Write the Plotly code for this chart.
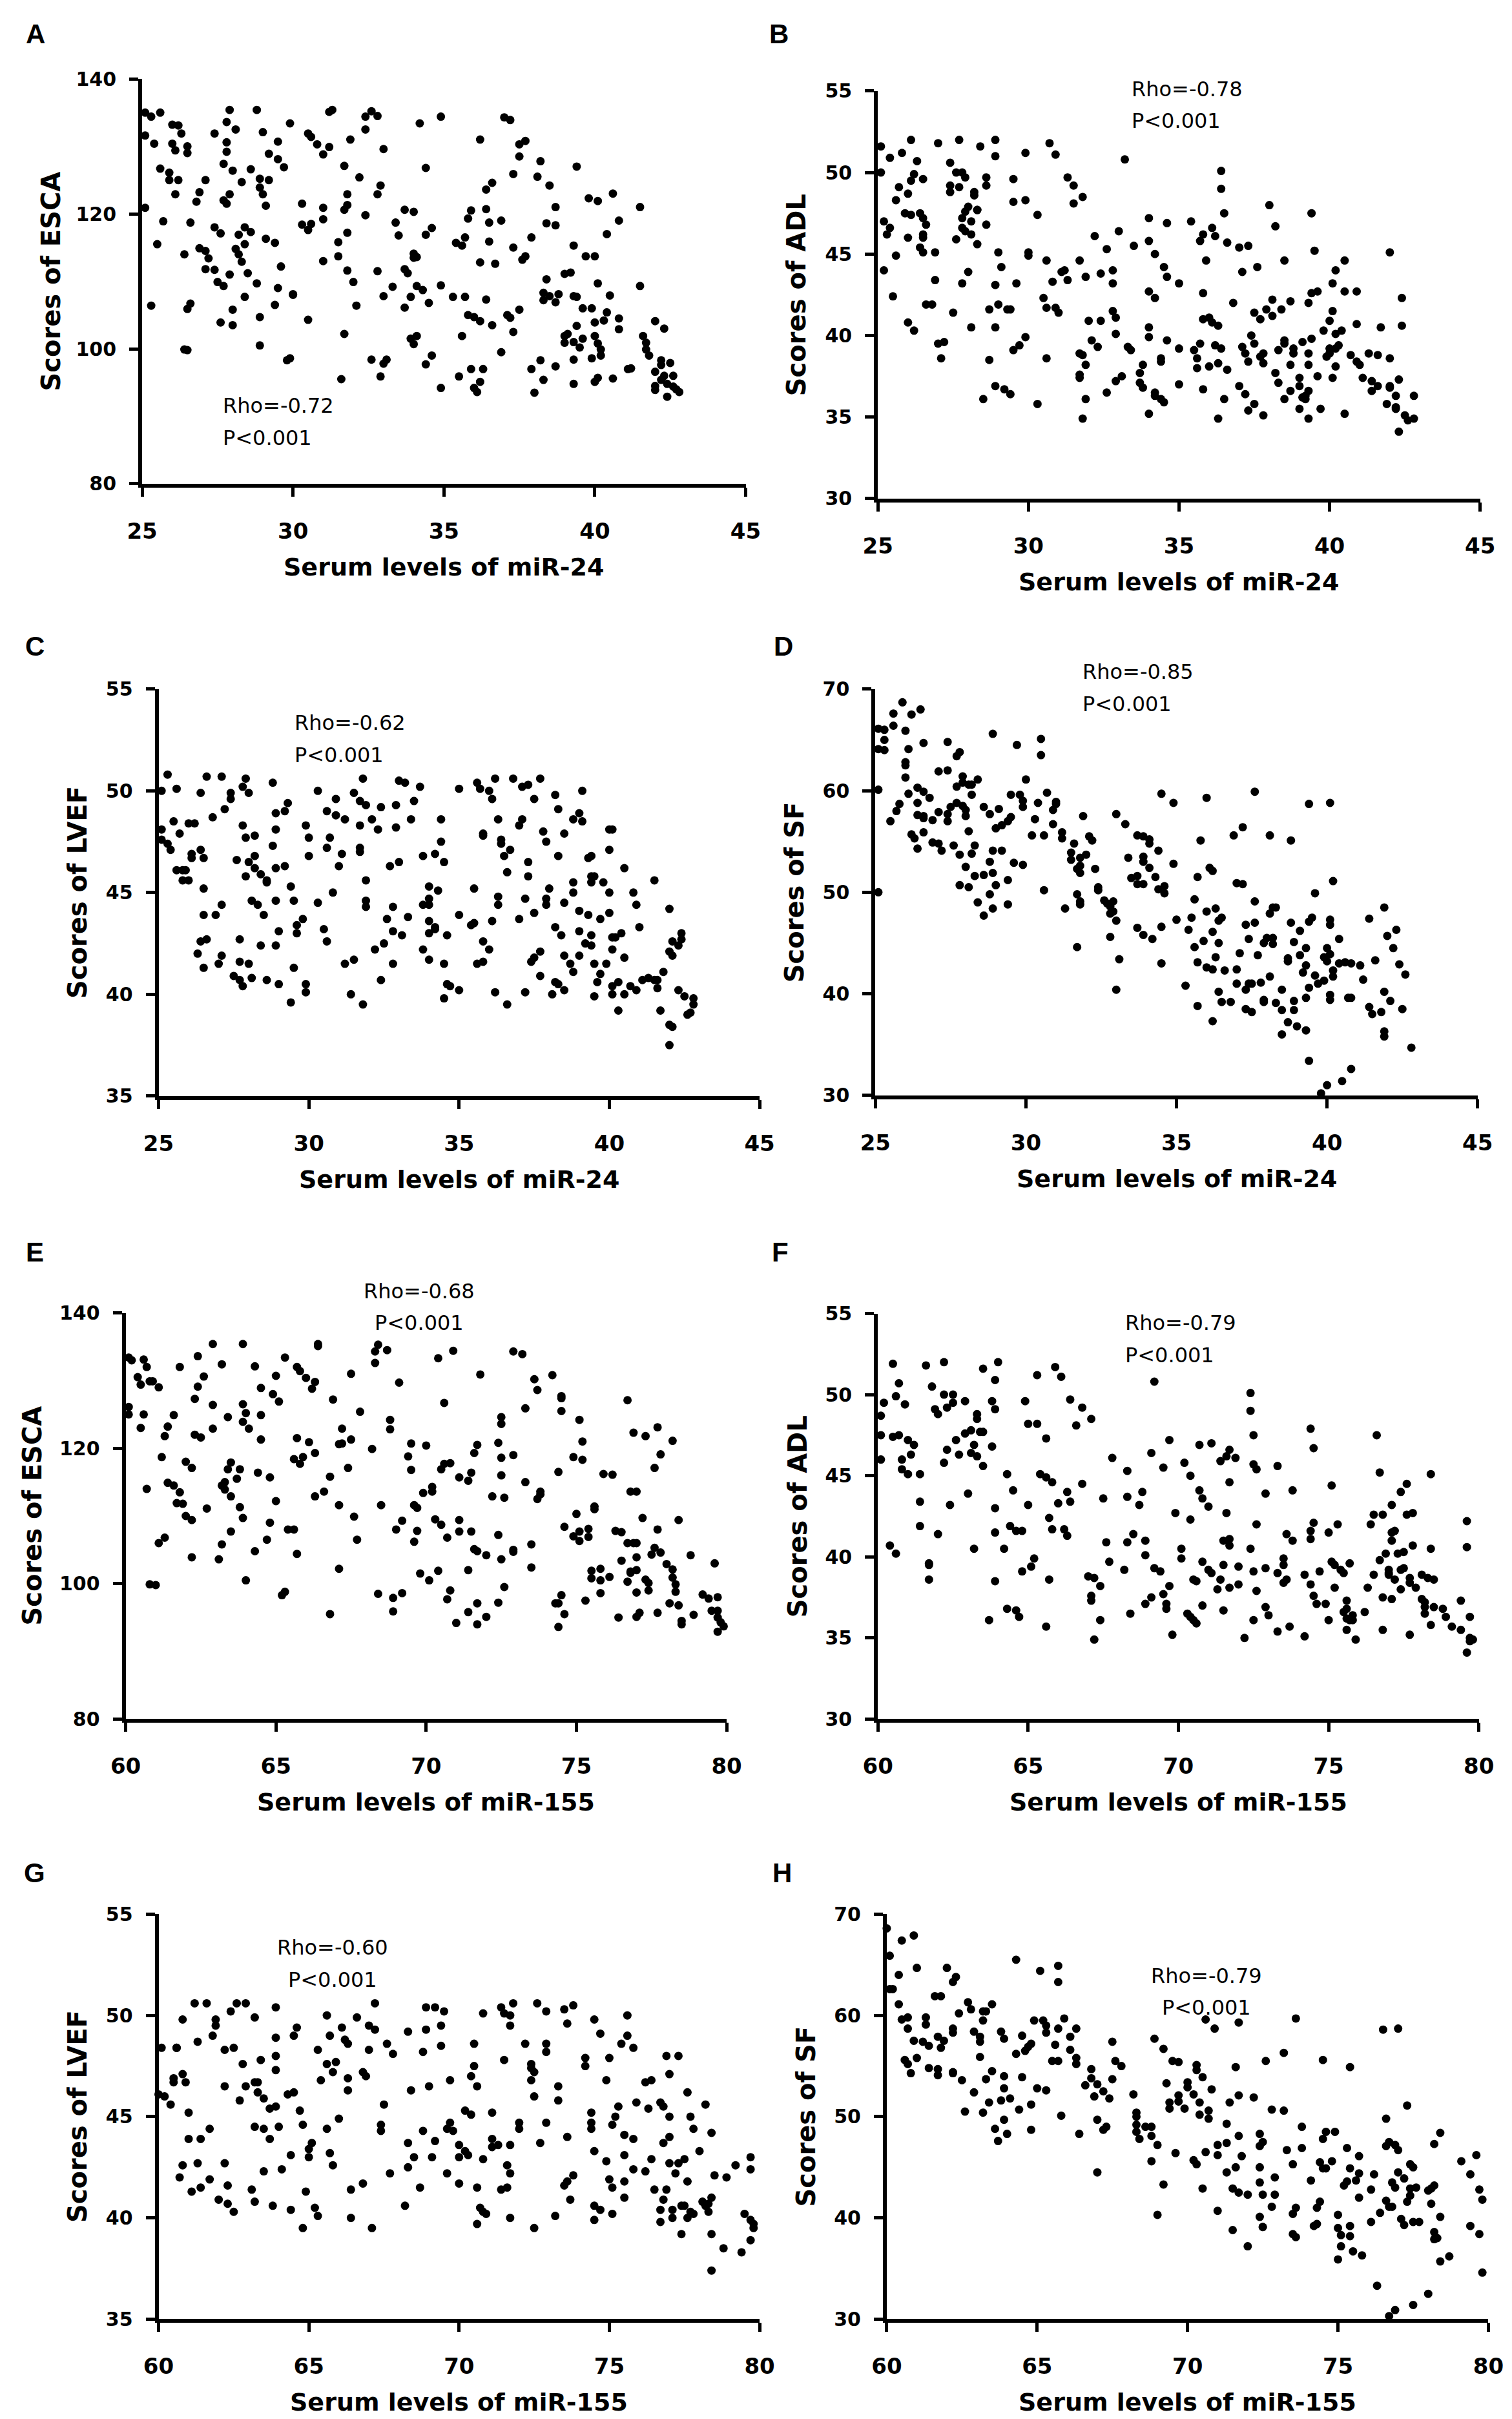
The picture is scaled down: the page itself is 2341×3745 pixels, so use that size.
"""Scatter panels A-H: serum miR-24 / miR-155 levels vs clinical scores."""

import plotly.graph_objects as go

W, H = 2341, 3745

# ---- data: (serum level, score) pairs ----
a_mir24_esca = [
    (25.1,135.0),(25.3,134.4),(25.6,135.0),(25.1,131.6),(25.4,130.4),(25.1,120.9),(25.6,126.7),(25.3,106.4),
    (25.5,115.5),(25.7,118.9),(26.0,133.2),(26.2,133.1),(26.3,131.9),(26.0,130.4),(26.1,129.4),(26.5,130.0),
    (26.5,129.0),(25.9,126.1),(25.9,125.0),(26.2,125.0),(26.1,122.9),(26.4,114.0),(26.5,105.9),(26.6,106.7),
    (26.6,118.7),(26.4,99.9),(26.5,99.8),(26.8,121.8),(26.9,123.2),(27.1,125.0),(26.9,114.9),(27.1,114.5),
    (27.2,113.4),(27.1,111.8),(27.4,131.9),(27.4,118.0),(27.6,117.1),(27.4,111.7),(27.5,109.9),(27.7,109.3),
    (27.6,103.9),(27.8,133.6),(27.9,135.4),(27.8,130.6),(27.8,129.2),(27.7,127.4),(28.0,126.4),(27.9,122.9),
    (27.7,122.0),(27.8,121.5),(28.1,132.5),(28.3,124.7),(28.2,116.9),(28.4,118.0),(28.1,114.8),(28.2,114.0),
    (28.4,115.5),(28.3,112.9),(27.9,111.0),(28.4,107.7),(28.0,103.5),(28.0,105.8),(28.6,117.3),(28.5,111.2),
    (28.8,109.7),(28.6,126.6),(28.8,135.4),(28.9,125.2),(28.9,123.9),(29.0,122.9),(29.0,132.1),(29.2,125.0),
    (29.1,121.2),(29.1,116.3),(28.9,104.7),(28.9,100.5),(29.2,128.9),(29.5,130.7),(29.5,128.1),(29.7,126.9),
    (29.4,115.7),(29.6,112.2),(29.5,109.0),(29.4,106.5),(29.9,133.4),(30.0,108.0),(30.0,108.1),(29.9,98.6),
    (29.8,98.3),(30.3,121.5),(30.3,118.4),(30.5,131.9),(30.6,131.4),(30.8,130.3),(31.0,128.8),(30.6,118.5),
    (30.5,117.6),(30.5,104.3),(31.0,120.9),(31.0,119.2),(31.0,113.0),(31.2,135.1),(31.3,135.4),(31.2,129.9),
    (31.5,115.8),(31.5,113.7),(31.7,127.1),(31.8,122.9),(31.8,121.3),(31.7,120.6),(31.8,117.2),(31.8,111.6),
    (31.7,102.2),(31.6,95.5),(31.9,131.0),(32.0,109.9),(32.1,106.4),(32.2,125.4),(32.4,119.8),(32.4,132.5),
    (32.4,134.4),(32.6,135.2),(32.8,134.5),(33.0,129.6),(32.9,124.2),(32.8,122.9),(32.8,111.5),(33.0,107.8),
    (32.6,98.4),(33.0,97.8),(33.1,98.4),(32.9,95.9),(33.3,109.2),(33.4,118.7),(33.5,116.8),(33.7,120.6),
    (34.0,120.3),(33.7,111.8),(33.8,111.2),(33.7,106.1),(34.0,114.1),(34.0,113.5),(34.1,113.6),(33.9,107.7),
    (34.1,109.3),(34.2,133.4),(34.4,126.8),(34.4,116.9),(34.6,117.9),(34.3,108.7),(34.5,106.8),(33.9,101.5),
    (34.1,101.9),(34.0,100.7),(34.6,99.0),(34.4,97.7),(34.9,134.4),(34.9,109.4),(34.9,94.2),(35.3,107.7),
    (35.4,115.7),(35.6,115.3),(35.7,116.5),(35.7,107.7),(35.8,105.0),(35.6,101.9),(35.5,95.9),(35.9,120.5),
    (35.8,119.3),(36.2,131.0),(36.4,120.7),(36.5,115.9),(36.5,118.7),(36.4,123.6),(36.6,124.6),(36.2,112.8),
    (36.7,112.6),(36.4,107.3),(36.0,104.7),(36.2,104.1),(36.6,103.5),(35.9,97.0),(36.3,97.0),(36.2,95.1),
    (36.0,94.2),(36.1,93.6),(36.9,119.0),(37.0,134.3),(37.2,133.9),(37.3,125.9),(37.3,115.0),(37.1,105.0),
    (37.2,104.6),(37.3,102.5),(36.9,99.5),(37.5,130.3),(37.7,130.8),(37.5,128.5),(37.6,113.2),(37.7,113.7),
    (37.5,105.8),(37.9,116.5),(38.2,127.8),(38.1,125.5),(38.5,124.2),(38.4,118.6),(38.7,121.0),(38.7,118.3),
    (38.4,110.3),(38.3,108.3),(38.5,107.8),(38.3,107.2),(38.8,108.1),(38.7,106.9),(37.9,97.0),(38.0,93.5),
    (38.2,98.3),(38.3,95.4),(38.7,97.4),(39.0,111.1),(39.2,111.3),(39.3,115.3),(39.3,107.8),(39.4,107.7),
    (39.4,127.0),(39.6,106.0),(39.4,103.4),(39.0,101.9),(39.1,102.2),(39.0,100.9),(39.3,101.0),(39.6,101.5),
    (39.5,100.2),(39.3,98.4),(39.3,94.8),(39.7,113.7),(40.0,113.7),(39.8,122.3),(40.1,121.9),(40.1,109.7),
    (39.9,106.0),(40.0,103.9),(40.0,101.9),(40.1,100.8),(40.2,99.9),(40.2,99.0),(39.9,98.6),(40.1,95.7),
    (40.0,95.1),(40.6,123.0),(40.4,117.0),(40.5,107.9),(40.4,105.4),(40.3,104.2),(40.6,95.6),(40.8,104.5),
    (40.8,119.0),(40.8,102.9),(41.5,121.0),(41.1,97.0),(41.2,97.1),(41.5,109.3),(41.6,101.9),(41.7,100.9),
    (41.7,99.9),(41.8,99.0),(42.0,104.1),(42.3,103.0),(42.0,96.6),(42.2,98.3),(42.2,97.6),(42.0,94.5),
    (42.0,93.9),(42.2,95.4),(42.3,96.0),(42.5,97.9),(42.4,94.8),(42.4,92.9),(42.6,96.0),(42.6,94.4),
    (42.7,94.0),(42.8,93.6),
]

b_mir24_adl = [
    (25.1,51.6),(25.1,50.0),(25.2,47.0),(25.2,44.0),(25.3,46.2),(25.4,46.6),(25.4,50.9),(25.5,42.4),
    (25.6,44.9),(25.6,48.3),(25.7,49.1),(25.8,51.2),(25.9,47.5),(26.0,48.7),(26.0,46.0),(26.0,40.8),
    (26.1,49.5),(26.1,52.0),(26.1,47.4),(26.2,49.9),(26.2,40.3),(26.3,50.7),(26.4,47.5),(26.5,49.6),
    (26.5,47.2),(26.6,46.8),(26.5,46.0),(26.5,46.2),(26.4,45.4),(26.5,45.1),(26.6,41.9),(26.8,41.9),
    (26.9,43.4),(26.9,45.1),(27.0,51.8),(27.0,39.5),(27.2,39.6),(27.1,38.6),(27.4,50.6),(27.4,49.2),
    (27.4,48.8),(27.6,50.0),(27.6,45.9),(27.5,41.4),(27.7,52.0),(27.8,50.0),(27.9,49.7),(27.7,49.1),
    (27.8,46.6),(27.8,47.2),(27.9,46.4),(27.9,47.6),(28.0,43.9),(27.8,43.2),(28.0,47.9),(28.1,47.0),
    (28.1,46.2),(28.2,48.6),(28.2,48.8),(28.3,47.7),(28.3,47.7),(28.3,45.6),(28.1,40.5),(28.4,51.6),
    (28.6,46.8),(28.6,49.7),(28.6,49.2),(28.5,36.1),(28.9,43.1),(28.9,52.0),(28.9,51.0),(28.7,41.6),
    (28.9,40.5),(28.7,38.5),(28.9,36.9),(29.0,45.1),(29.1,44.2),(29.0,41.9),(29.3,41.6),(29.4,41.6),
    (29.2,36.7),(29.4,36.4),(29.5,39.1),(29.5,49.6),(29.5,48.2),(29.6,43.2),(29.7,39.4),(29.9,39.9),
    (29.9,51.2),(29.9,48.3),(30.0,45.1),(30.0,44.9),(30.3,47.4),(30.3,35.8),(30.5,42.3),(30.6,44.6),
    (30.6,41.7),(30.6,38.6),(30.7,51.8),(30.8,43.3),(30.9,51.1),(30.9,41.7),(31.0,41.4),(31.1,43.9),
    (31.2,44.0),(31.3,49.7),(31.3,43.4),(31.5,49.2),(31.5,48.1),(31.7,44.6),(31.7,38.9),(31.7,37.6),
    (31.7,37.4),(31.8,48.5),(31.9,43.6),(31.8,38.8),(31.9,38.2),(31.9,36.1),(31.8,34.9),(32.0,40.9),
    (32.1,39.7),(32.2,46.1),(32.3,39.3),(32.4,40.9),(32.4,43.8),(32.6,45.3),(32.6,36.5),(32.8,44.0),
    (32.8,43.2),(32.8,41.5),(32.9,41.1),(32.9,40.1),(32.9,37.2),(33.1,37.5),(33.0,46.4),(33.2,50.8),
    (33.3,39.3),(33.4,39.1),(33.5,45.5),(33.7,37.7),(33.8,38.2),(33.7,37.1),(33.8,36.8),(34.0,47.2),
    (34.0,45.8),(34.0,42.7),(34.0,40.5),(34.0,39.9),(34.0,35.2),(34.2,36.5),(34.2,36.3),(34.2,45.0),
    (34.2,42.3),(34.4,36.1),(34.5,35.9),(34.4,38.6),(34.4,38.4),(34.5,44.2),(34.6,46.9),(34.6,39.7),
    (34.6,43.6),(35.0,43.2),(35.0,39.2),(35.0,37.0),(35.4,47.0),(35.5,39.1),(35.6,38.0),(35.6,38.6),
    (35.7,39.5),(35.7,45.8),(35.8,46.2),(35.8,42.6),(35.8,41.0),(35.8,36.7),(35.9,44.6),(36.0,38.1),
    (36.0,41.1),(36.1,40.8),(36.1,46.6),(36.2,46.1),(36.2,39.4),(36.3,38.3),(36.3,40.6),(36.4,39.2),
    (36.3,34.9),(36.4,50.1),(36.4,49.0),(36.5,47.5),(36.5,36.1),(36.6,45.7),(36.6,37.9),(36.8,42.0),
    (37.0,45.4),(37.1,43.9),(37.0,36.9),(37.1,39.3),(37.2,38.9),(37.2,36.4),(37.3,45.5),(37.3,38.4),
    (37.3,35.4),(37.4,40.0),(37.5,39.5),(37.5,41.4),(37.5,35.8),(37.6,44.2),(37.7,41.0),(37.7,38.7),
    (37.8,35.1),(37.8,38.9),(37.8,38.3),(38.0,48.0),(37.9,41.6),(38.1,41.2),(38.1,42.2),(38.2,46.7),
    (38.2,37.7),(38.3,37.1),(38.3,39.1),(38.4,41.6),(38.5,44.6),(38.5,36.1),(38.5,39.7),(38.5,39.5),
    (38.7,38.2),(38.7,42.1),(38.7,36.6),(38.8,39.2),(38.8,38.9),(39.0,36.9),(39.0,37.4),(39.0,35.5),
    (39.1,36.2),(39.1,39.6),(39.2,36.1),(39.2,36.3),(39.3,36.6),(39.3,34.9),(39.3,38.2),(39.3,38.9),
    (39.3,42.0),(39.4,42.6),(39.4,39.8),(39.4,47.5),(39.5,45.2),(39.6,42.7),(39.6,37.5),(39.7,35.5),
    (39.8,40.3),(39.9,38.7),(40.0,40.9),(40.0,39.2),(40.0,38.9),(40.1,37.4),(40.1,43.2),(40.1,41.5),
    (40.2,40.1),(40.2,44.0),(40.2,38.1),(40.3,39.4),(40.2,39.2),(40.4,40.3),(40.5,44.6),(40.5,42.7),
    (40.5,35.2),(40.7,38.8),(40.9,38.4),(40.9,40.7),(40.9,42.7),(41.0,38.2),(41.1,37.4),(41.3,38.9),
    (41.4,37.2),(41.4,36.6),(41.6,38.8),(41.6,36.9),(41.7,40.5),(42.0,45.1),(42.0,38.6),(42.0,36.9),
    (42.0,36.8),(41.9,35.8),(42.2,36.3),(42.2,35.6),(42.2,35.5),(42.3,37.3),(42.3,34.1),(42.4,42.3),
    (42.4,40.6),(42.5,35.1),(42.6,34.8),(42.8,36.3),(42.8,34.9),
]

c_mir24_lvef = [
    (25.1,50.0),(25.1,48.1),(25.1,47.6),(25.3,50.8),(25.3,47.4),(25.4,47.1),(25.5,48.5),(25.6,50.1),
    (25.6,46.1),(25.7,47.9),(25.8,46.1),(25.8,45.6),(26.0,48.4),(25.9,46.1),(26.0,45.6),(26.1,46.9),
    (26.1,46.7),(26.2,48.4),(26.3,42.0),(26.4,49.9),(26.4,42.6),(26.4,47.1),(26.5,46.7),(26.5,45.2),
    (26.5,43.9),(26.5,41.3),(26.6,50.7),(26.6,42.7),(26.8,48.7),(26.9,43.9),(27.0,41.5),(27.1,50.7),
    (27.1,44.4),(27.1,41.9),(27.2,49.1),(27.4,49.9),(27.4,49.6),(27.5,40.9),(27.6,46.6),(27.7,42.7),
    (27.7,40.7),(27.7,41.6),(27.8,48.3),(27.8,50.2),(27.8,40.4),(27.9,50.6),(27.9,47.7),(27.9,45.8),
    (28.0,46.5),(28.0,49.9),(28.0,41.5),(28.1,44.6),(28.1,40.8),(28.2,46.8),(28.2,46.2),(28.2,47.8),
    (28.3,44.4),(28.4,45.9),(28.5,43.9),(28.4,42.4),(28.6,45.5),(28.6,45.6),(28.6,40.7),(28.8,50.4),
    (28.8,47.3),(28.9,48.9),(28.9,48.1),(28.9,46.2),(28.9,44.6),(28.9,42.4),(29.0,43.1),(29.0,40.5),
    (29.2,49.0),(29.2,46.3),(29.3,49.4),(29.4,45.3),(29.5,44.6),(29.4,39.6),(29.6,43.4),(29.6,43.0),
    (29.5,41.3),(29.8,43.7),(29.9,40.5),(29.9,40.1),(29.9,48.3),(30.0,47.7),(30.0,46.8),(30.3,50.0),
    (30.3,44.5),(30.5,43.2),(30.6,42.6),(30.6,49.0),(30.6,47.2),(30.7,47.7),(30.8,45.0),(30.9,49.6),
    (30.9,48.8),(31.0,46.3),(31.1,46.9),(31.2,48.6),(31.2,41.5),(31.4,40.0),(31.5,49.9),(31.5,41.7),
    (31.7,47.2),(31.7,49.5),(31.7,48.3),(31.7,47.0),(31.8,50.6),(31.9,49.3),(31.9,45.6),(31.9,44.6),
    (31.9,44.3),(31.8,39.5),(32.1,48.6),(32.3,48.1),(32.2,42.2),(32.4,49.2),(32.5,42.5),(32.4,40.7),
    (32.6,43.7),(32.7,46.3),(32.8,44.3),(32.8,43.1),(32.8,41.5),(32.9,49.3),(32.9,48.2),(33.0,50.5),
    (33.0,46.5),(33.1,42.9),(33.2,50.4),(33.3,43.8),(33.4,48.6),(33.5,49.5),(33.7,50.2),(33.8,42.2),
    (33.8,46.8),(33.8,44.4),(34.0,44.7),(34.0,44.4),(34.0,45.3),(34.0,43.6),(34.0,43.0),(34.0,41.7),
    (34.2,46.9),(34.2,43.3),(34.2,43.2),(34.3,45.1),(34.4,48.6),(34.4,47.5),(34.5,46.5),(34.5,41.5),
    (34.5,39.8),(34.6,42.9),(34.6,40.5),(34.7,40.4),(35.0,40.2),(35.0,50.1),(35.0,43.9),(35.4,43.4),
    (35.5,43.5),(35.5,45.2),(35.6,50.4),(35.7,50.1),(35.8,47.9),(35.8,47.8),(35.6,41.5),(35.8,41.6),
    (35.8,42.6),(36.0,42.2),(36.0,50.0),(36.1,49.6),(36.1,43.6),(36.2,40.1),(36.2,50.6),(36.3,48.6),
    (36.3,44.8),(36.3,44.4),(36.4,47.6),(36.4,47.4),(36.5,46.8),(36.6,39.5),(36.7,47.1),(36.6,46.0),
    (36.8,50.6),(37.0,48.3),(37.1,48.6),(37.0,43.7),(37.1,50.2),(37.2,44.7),(37.2,40.1),(37.3,50.3),
    (37.3,46.5),(37.3,45.8),(37.4,41.6),(37.5,49.6),(37.5,44.0),(37.5,41.8),(37.7,42.1),(37.7,40.9),
    (37.7,50.6),(37.8,48.0),(37.9,47.5),(38.0,45.2),(37.9,44.7),(37.9,44.4),(38.2,49.8),(38.2,43.3),
    (38.2,40.6),(38.1,40.0),(38.3,49.1),(38.3,46.8),(38.4,42.9),(38.3,40.5),(38.5,47.9),(38.5,44.5),
    (38.5,41.9),(38.5,40.2),(38.8,45.5),(38.8,45.0),(38.7,41.5),(38.8,48.6),(38.8,41.1),(39.0,43.1),
    (39.0,44.1),(39.0,41.9),(39.0,48.9),(39.1,48.5),(39.1,50.0),(39.2,42.5),(39.3,43.9),(39.3,46.7),
    (39.4,45.5),(39.4,42.4),(39.4,42.9),(39.4,46.8),(39.4,45.8),(39.5,45.8),(39.5,41.5),(39.5,39.9),
    (39.7,43.7),(39.7,41.0),(39.6,40.6),(39.8,45.5),(39.9,41.5),(40.0,47.1),(40.0,48.1),(40.0,44.0),
    (40.0,45.0),(40.1,42.8),(40.1,42.2),(40.1,40.0),(40.1,40.4),(40.1,48.1),(40.2,42.8),(40.3,40.6),
    (40.3,39.2),(40.4,43.0),(40.5,41.8),(40.5,40.0),(40.5,46.2),(40.7,40.4),(40.8,45.0),(40.9,44.4),
    (40.9,40.2),(41.0,43.3),(41.1,40.7),(41.3,40.8),(41.5,40.7),(41.5,45.6),(41.6,40.7),(41.6,40.3),
    (41.7,39.2),(41.8,41.1),(42.0,44.2),(42.0,42.1),(42.1,42.6),(42.1,41.9),(42.0,38.5),(42.1,38.4),
    (42.0,37.5),(42.3,40.2),(42.3,42.4),(42.4,43.0),(42.4,42.7),(42.5,39.9),(42.6,39.0),(42.7,39.1),
    (42.8,39.8),(42.8,39.5),
]

d_mir24_sf = [
    (25.1,66.1),(25.1,64.1),(25.1,60.1),(25.1,50.0),(25.3,66.0),(25.3,65.0),(25.3,64.0),(25.5,57.0),
    (25.6,66.4),(25.6,67.6),(25.9,68.7),(25.7,58.0),(25.8,58.7),(26.0,65.9),(26.0,62.8),(26.0,62.5),
    (26.0,61.3),(26.1,64.1),(26.1,59.7),(26.2,67.5),(26.2,55.7),(26.3,55.3),(26.4,60.3),(26.4,58.8),
    (26.4,57.6),(26.5,68.0),(26.6,64.7),(26.6,55.9),(26.4,54.3),(26.6,57.5),(26.6,59.9),(26.6,57.3),
    (26.8,59.3),(26.9,57.1),(26.9,54.9),(27.1,61.9),(27.1,54.8),(27.1,57.9),(27.2,54.1),(27.4,62.0),
    (27.4,64.8),(27.4,57.0),(27.4,57.7),(27.5,58.4),(27.6,54.6),(27.7,63.4),(27.8,63.8),(27.7,60.4),
    (27.7,58.8),(27.8,53.7),(27.8,50.7),(27.9,61.4),(27.9,60.8),(27.9,58.5),(28.0,52.5),(28.0,58.1),
    (28.0,57.5),(28.1,56.0),(28.1,60.6),(28.2,59.6),(28.2,60.6),(28.1,50.5),(28.2,53.8),(28.3,54.6),
    (28.3,51.6),(28.4,61.1),(28.4,49.0),(28.6,47.7),(28.6,58.4),(28.6,51.7),(28.8,57.7),(28.8,53.0),
    (28.9,65.6),(28.9,54.1),(28.9,51.9),(28.8,49.8),(28.9,48.4),(29.0,56.3),(29.0,50.7),(29.1,58.2),
    (29.2,54.1),(29.2,56.6),(29.4,57.0),(29.5,57.4),(29.4,51.2),(29.4,48.8),(29.5,59.6),(29.6,52.9),
    (29.7,64.5),(29.8,59.6),(29.9,59.0),(29.9,58.4),(29.9,52.7),(30.0,61.1),(30.2,55.6),(30.3,57.2),
    (30.4,58.8),(30.5,65.1),(30.5,63.5),(30.6,55.6),(30.6,50.2),(30.7,59.8),(30.9,58.1),(30.9,56.7),
    (31.0,58.7),(31.0,58.9),(31.2,55.9),(31.2,55.3),(31.3,48.4),(31.5,53.9),(31.6,54.8),(31.5,53.2),
    (31.7,52.3),(31.7,49.8),(31.7,44.6),(31.8,53.4),(31.8,52.6),(31.9,57.5),(31.8,51.9),(31.8,49.1),
    (31.8,48.8),(32.0,53.7),(32.1,55.5),(32.2,55.1),(32.3,52.3),(32.4,50.2),(32.4,50.5),(32.6,49.2),
    (32.7,48.9),(32.8,47.9),(32.8,48.6),(32.9,49.1),(32.9,48.1),(32.8,45.6),(33.0,57.7),(33.0,47.2),
    (33.0,40.4),(33.1,43.4),(33.3,56.7),(33.4,53.4),(33.5,51.4),(33.7,50.8),(33.7,55.6),(33.7,51.6),
    (33.7,46.5),(33.9,55.5),(33.9,53.5),(33.9,53.0),(33.9,50.8),(33.9,45.8),(34.1,52.4),(34.1,55.2),
    (34.1,54.8),(34.2,45.4),(34.3,51.5),(34.4,50.3),(34.4,54.1),(34.5,59.7),(34.6,49.9),(34.6,50.6),
    (34.5,46.6),(34.5,43.0),(34.9,58.8),(34.9,52.8),(35.0,47.3),(35.3,40.8),(35.4,46.3),(35.5,47.5),
    (35.6,44.6),(35.6,49.3),(35.7,43.1),(35.7,51.5),(35.7,38.8),(35.8,55.1),(35.9,45.2),(36.0,42.6),
    (36.0,59.3),(36.0,48.1),(36.1,52.4),(36.2,46.1),(36.2,42.4),(36.2,52.1),(36.2,37.3),(36.3,43.6),
    (36.3,48.4),(36.4,40.2),(36.4,45.0),(36.4,47.2),(36.5,39.2),(36.5,47.5),(36.6,42.3),(36.8,39.2),
    (36.9,55.6),(37.0,41.0),(37.0,42.4),(37.0,50.9),(37.2,56.4),(37.1,44.0),(37.2,50.8),(37.3,46.8),
    (37.3,38.5),(37.3,40.4),(37.4,45.4),(37.4,41.0),(37.5,38.2),(37.5,41.0),(37.6,59.9),(37.6,47.0),
    (37.6,49.1),(37.7,43.8),(37.8,41.1),(37.9,39.2),(37.9,39.4),(37.9,45.0),(38.0,45.5),(38.1,55.6),
    (38.1,47.9),(38.1,41.7),(38.2,45.5),(38.2,48.5),(38.2,44.9),(38.3,48.5),(38.3,39.1),(38.5,40.4),
    (38.5,38.4),(38.5,36.0),(38.7,37.2),(38.7,43.5),(38.7,43.2),(38.8,55.1),(38.8,47.0),(38.9,45.1),
    (38.9,39.3),(38.9,38.4),(39.0,36.8),(39.1,46.2),(39.1,43.8),(39.2,42.1),(39.3,44.5),(39.3,42.8),
    (39.3,36.4),(39.3,39.6),(39.4,33.4),(39.4,58.7),(39.4,47.1),(39.5,47.5),(39.4,40.6),(39.6,49.9),
    (39.6,41.8),(39.7,41.0),(39.8,30.2),(39.9,43.6),(39.9,41.3),(40.0,44.5),(40.0,43.2),(40.1,58.8),
    (40.1,47.3),(40.1,46.8),(40.1,39.9),(40.1,39.4),(40.1,43.9),(40.2,41.7),(40.2,51.1),(40.2,42.3),
    (40.0,31.0),(40.4,43.0),(40.4,45.4),(40.5,31.4),(40.6,43.1),(40.7,39.6),(40.8,43.0),(40.8,39.6),
    (40.8,32.6),(41.1,42.8),(41.2,41.4),(41.4,38.7),(41.4,47.4),(41.5,38.0),(41.6,43.3),(41.8,38.2),
    (41.9,48.5),(41.9,40.2),(41.9,36.3),(41.9,35.8),(42.0,45.7),(42.1,39.3),(42.2,44.5),(42.3,46.3),
    (42.4,42.9),(42.5,38.5),(42.6,41.9),(42.8,34.7),
]

e_mir155_esca = [
    (60.1,126.1),(60.1,125.0),(60.1,133.4),(60.2,133.0),(60.4,130.5),(60.5,129.4),(60.5,123.0),(60.6,125.0),
    (60.6,133.1),(60.7,132.0),(60.7,114.0),(60.8,99.9),(60.8,129.9),(60.9,129.9),(61.0,99.8),(61.1,106.0),
    (61.1,129.0),(61.2,118.7),(61.3,106.8),(61.3,121.8),(61.4,123.2),(61.4,114.9),(61.6,124.9),(61.6,114.5),
    (61.8,113.5),(61.7,111.9),(61.9,111.8),(61.8,132.0),(62.0,118.0),(62.0,110.0),(62.2,117.1),(62.2,109.4),
    (62.2,103.9),(62.3,127.3),(62.3,122.0),(62.4,133.6),(62.4,129.1),(62.5,121.6),(62.6,130.6),(62.7,111.1),
    (62.9,135.4),(62.9,122.9),(62.9,126.4),(63.1,103.6),(63.2,105.8),(63.2,132.4),(63.2,114.5),(63.3,115.0),
    (63.3,113.9),(63.4,116.9),(63.4,124.6),(63.5,117.9),(63.5,112.9),(63.5,107.7),(63.7,115.5),(63.8,111.3),
    (63.8,116.9),(63.9,126.5),(63.9,109.7),(63.9,135.4),(64.0,125.2),(63.9,123.9),(64.0,100.5),(64.1,122.9),
    (64.3,132.1),(64.3,104.8),(64.4,116.4),(64.5,121.3),(64.5,124.9),(64.5,128.9),(64.7,106.5),(64.8,115.7),
    (64.8,109.0),(64.9,128.0),(65.0,130.7),(65.0,112.2),(65.1,126.9),(65.2,98.3),(65.3,98.8),(65.3,133.4),
    (65.4,108.0),(65.6,108.0),(65.7,121.5),(65.6,118.4),(65.7,104.4),(65.7,132.0),(65.8,117.7),(65.8,131.4),
    (65.9,118.7),(66.0,130.4),(66.1,120.9),(66.2,128.8),(66.3,119.3),(66.3,112.9),(66.3,129.8),(66.4,135.1),
    (66.4,135.4),(66.6,113.6),(66.8,115.8),(66.8,95.5),(66.9,127.2),(67.1,102.2),(67.1,111.6),(67.1,120.6),
    (67.2,120.7),(67.2,122.9),(67.4,117.1),(67.5,121.3),(67.5,131.0),(67.6,109.9),(67.7,106.5),(67.8,125.4),
    (68.2,119.9),(68.3,132.6),(68.3,134.3),(68.4,135.3),(68.4,98.5),(68.5,111.6),(68.7,134.5),(68.8,122.8),
    (68.8,124.2),(68.9,95.9),(68.9,97.9),(69.0,108.0),(69.1,129.7),(69.2,98.6),(69.2,109.3),(69.4,118.8),
    (69.5,116.8),(69.5,120.7),(69.6,106.2),(69.6,111.6),(69.7,111.2),(69.7,107.8),(69.8,101.5),(69.9,113.4),
    (70.0,120.4),(70.1,100.5),(70.2,114.3),(70.2,113.6),(70.3,109.5),(70.4,133.3),(70.4,101.9),(70.5,116.9),
    (70.5,108.7),(70.6,126.7),(70.6,117.7),(70.7,106.8),(70.7,97.7),(70.8,99.0),(70.8,117.8),(70.9,134.4),
    (71.0,94.2),(71.1,109.4),(71.1,107.7),(71.1,115.7),(71.4,115.2),(71.4,95.8),(71.4,102.0),(71.5,116.4),
    (71.5,107.7),(71.6,105.1),(71.6,119.3),(71.7,120.5),(71.7,104.8),(71.7,97.1),(71.7,94.0),(71.8,130.9),
    (72.0,104.2),(72.0,95.1),(72.2,112.9),(72.4,97.2),(72.4,120.8),(72.4,107.2),(72.5,116.0),(72.5,123.6),
    (72.5,124.6),(72.5,118.6),(72.5,103.6),(72.6,112.7),(72.6,99.5),(72.9,119.0),(72.9,134.3),(72.9,105.0),
    (72.9,104.7),(73.2,133.9),(73.3,125.9),(73.3,115.0),(73.5,105.8),(73.5,102.4),(73.6,130.2),(73.7,128.6),
    (73.7,112.5),(73.8,113.2),(73.8,113.6),(74.2,130.8),(74.3,97.1),(74.4,97.1),(74.4,116.5),(74.4,93.6),
    (74.5,125.5),(74.5,127.7),(74.5,127.4),(74.5,98.3),(74.6,95.5),(74.6,108.4),(74.9,107.0),(74.9,118.7),
    (75.0,110.3),(75.1,107.7),(75.1,106.3),(75.1,124.2),(75.2,118.3),(75.2,121.0),(75.3,97.5),(75.4,106.9),
    (75.4,108.1),(75.5,101.9),(75.5,100.8),(75.6,111.0),(75.6,111.4),(75.8,102.2),(75.8,100.5),(75.8,98.6),
    (75.9,116.2),(76.1,101.0),(76.2,116.1),(76.3,107.8),(76.4,95.0),(76.5,107.6),(76.5,103.4),(76.7,127.1),
    (76.7,106.0),(76.7,100.3),(76.8,101.6),(76.8,101.8),(76.8,113.6),(76.9,122.3),(76.9,106.0),(77.0,95.1),
    (77.0,113.6),(77.0,98.7),(77.0,106.0),(77.0,103.9),(77.0,102.0),(77.1,95.7),(77.2,109.7),(77.3,121.8),
    (77.3,100.6),(77.4,99.0),(77.4,100.1),(77.5,104.3),(77.6,117.1),(77.6,105.3),(77.7,108.0),(77.7,123.1),
    (77.7,95.7),(77.8,104.6),(77.8,119.1),(78.0,102.9),(78.1,97.1),(78.2,121.1),(78.2,102.1),(78.2,100.9),
    (78.3,99.9),(78.3,98.8),(78.4,109.4),(78.4,96.8),(78.5,94.5),(78.5,94.0),(78.8,104.2),(78.9,95.4),
    (79.2,98.4),(79.4,97.8),(79.5,96.0),(79.6,103.0),(79.7,98.0),(79.7,96.0),(79.7,95.0),(79.8,94.3),
    (79.9,93.7),(79.7,92.9),
]

f_mir155_adl = [
    (60.1,48.7),(60.1,47.5),(60.1,46.0),(60.2,49.5),(60.5,51.9),(60.5,47.4),(60.4,40.7),(60.6,49.9),
    (60.6,40.2),(60.7,50.7),(60.7,47.5),(60.8,45.4),(60.8,46.0),(60.9,49.4),(61.0,47.2),(61.0,45.1),
    (61.1,46.3),(61.2,46.9),(61.4,41.9),(61.4,43.4),(61.4,45.1),(61.6,51.8),(61.7,39.5),(61.7,39.6),
    (61.7,38.6),(61.8,50.5),(61.9,49.1),(62.0,41.4),(62.0,48.8),(62.2,52.0),(62.2,50.0),(62.3,49.2),
    (62.3,46.6),(62.2,45.8),(62.4,43.2),(62.5,49.5),(62.5,50.0),(62.6,47.2),(62.7,46.3),(62.9,49.6),
    (62.9,47.6),(63.0,43.9),(63.1,47.8),(63.1,46.4),(63.2,46.9),(63.2,40.5),(63.3,46.2),(63.3,48.5),
    (63.3,48.8),(63.4,47.7),(63.5,47.7),(63.5,45.6),(63.5,51.6),(63.7,36.1),(63.8,46.8),(63.8,49.6),
    (63.9,49.1),(63.9,38.5),(63.9,50.9),(63.9,43.0),(63.9,41.5),(64.0,52.0),(64.2,40.5),(64.3,45.1),
    (64.3,36.8),(64.4,41.9),(64.5,44.1),(64.6,41.6),(64.6,36.7),(64.7,36.3),(64.8,41.6),(64.8,39.1),
    (64.9,49.6),(65.0,48.2),(65.0,43.2),(65.1,39.4),(65.2,39.9),(65.3,51.2),(65.3,48.2),(65.4,45.1),
    (65.6,44.9),(65.6,35.7),(65.6,47.3),(65.7,42.4),(65.7,38.6),(65.8,44.6),(65.8,41.7),(65.9,51.7),
    (66.0,43.3),(66.1,51.1),(66.2,41.7),(66.3,41.3),(66.4,49.7),(66.3,44.0),(66.4,43.4),(66.6,48.1),
    (66.8,49.2),(66.8,44.5),(67.0,38.8),(67.1,48.5),(67.1,37.6),(67.1,37.3),(67.2,38.7),(67.2,34.9),
    (67.4,36.1),(67.4,38.2),(67.5,43.6),(67.6,40.9),(67.7,39.7),(67.8,46.1),(68.2,39.2),(68.3,40.9),
    (68.3,43.7),(68.3,45.3),(68.4,36.5),(68.5,41.4),(68.7,43.2),(68.8,44.0),(68.9,37.1),(68.9,41.0),
    (68.9,40.1),(69.1,46.4),(69.1,37.5),(69.2,50.8),(69.2,39.3),(69.4,39.1),(69.5,45.5),(69.5,37.7),
    (69.6,37.1),(69.6,36.8),(69.7,38.2),(69.7,47.2),(69.8,35.2),(69.9,42.7),(70.1,40.5),(70.1,39.9),
    (70.2,45.8),(70.3,36.5),(70.4,36.3),(70.4,45.0),(70.4,42.3),(70.5,36.1),(70.5,38.6),(70.6,38.5),
    (70.6,35.9),(70.7,46.9),(70.7,44.1),(70.8,43.6),(70.8,39.7),(70.8,37.0),(71.0,39.2),(71.0,43.1),
    (71.1,47.0),(71.1,39.0),(71.4,45.9),(71.3,38.0),(71.4,38.6),(71.5,41.0),(71.5,39.5),(71.5,36.7),
    (71.6,46.2),(71.6,42.7),(71.7,46.6),(71.7,44.6),(71.7,41.1),(71.7,40.7),(71.7,38.1),(71.9,46.1),
    (72.0,39.4),(72.0,38.3),(72.2,35.0),(72.4,40.5),(72.4,50.1),(72.4,49.0),(72.5,39.1),(72.5,47.5),
    (72.5,45.7),(72.5,36.1),(72.6,37.9),(72.6,45.4),(72.6,42.0),(72.9,36.9),(72.9,43.9),(72.9,39.3),
    (73.0,36.4),(73.3,45.6),(73.3,39.0),(73.3,35.4),(73.5,39.9),(73.5,39.5),(73.5,38.4),(73.6,41.4),
    (73.6,38.6),(73.7,35.7),(73.8,44.1),(73.8,41.0),(74.2,35.1),(74.2,38.9),(74.4,38.3),(74.4,41.6),
    (74.4,47.9),(74.4,41.1),(74.5,42.1),(74.5,37.6),(74.5,46.7),(74.6,37.1),(74.7,39.1),(74.9,37.1),
    (75.0,41.5),(75.0,36.1),(75.1,44.4),(75.1,39.7),(75.2,39.5),(75.2,38.1),(75.3,42.0),(75.4,39.2),
    (75.5,36.6),(75.5,39.0),(75.6,35.5),(75.6,36.8),(75.6,37.3),(75.6,36.2),(75.7,36.1),(75.7,39.6),
    (75.8,36.4),(75.8,36.1),(75.9,34.9),(76.2,36.6),(76.3,38.1),(76.4,42.0),(76.5,38.9),(76.5,42.6),
    (76.6,47.5),(76.7,39.8),(76.7,45.2),(76.8,42.6),(76.8,37.5),(76.8,35.5),(76.9,40.2),(77.0,39.2),
    (77.0,38.9),(77.0,39.0),(77.1,41.0),(77.1,41.5),(77.1,37.4),(77.1,43.2),(77.2,38.6),(77.2,41.6),
    (77.3,40.2),(77.4,38.0),(77.4,44.0),(77.4,39.2),(77.5,39.3),(77.5,40.3),(77.6,44.5),(77.6,42.6),
    (77.7,35.2),(77.7,38.7),(77.7,38.4),(77.8,42.7),(77.8,40.7),(77.9,38.1),(78.1,37.4),(78.1,38.9),
    (78.2,36.5),(78.2,37.2),(78.2,36.9),(78.3,38.7),(78.4,40.5),(78.4,35.8),(78.4,45.1),(78.5,38.6),
    (78.5,36.9),(78.8,36.8),(78.9,36.3),(79.1,35.7),(79.4,35.5),(79.4,37.3),(79.6,34.1),(79.6,42.2),
    (79.6,40.6),(79.7,35.0),(79.7,34.8),(79.7,36.3),(79.8,34.9),
]

g_mir155_lvef = [
    (60.1,48.4),(60.0,46.1),(60.2,46.0),(60.4,45.6),(60.5,46.7),(60.5,46.9),(60.6,48.4),(60.6,48.4),
    (60.7,42.0),(60.8,42.6),(60.8,49.8),(60.8,47.1),(60.9,46.7),(61.0,45.2),(61.0,43.9),(61.1,41.3),
    (61.2,50.6),(61.3,48.7),(61.3,42.7),(61.4,43.9),(61.4,41.5),(61.6,50.6),(61.7,44.4),(61.7,41.9),
    (61.8,49.0),(61.9,49.5),(61.9,49.8),(62.0,40.9),(62.2,46.5),(62.2,48.3),(62.2,42.7),(62.3,41.6),
    (62.3,40.7),(62.4,50.2),(62.5,48.4),(62.5,40.3),(62.6,50.6),(62.7,45.8),(62.8,47.6),(62.9,50.6),
    (62.9,46.5),(63.1,41.4),(63.2,44.5),(63.2,40.8),(63.2,49.9),(63.2,46.7),(63.3,46.2),(63.3,46.7),
    (63.4,47.8),(63.5,44.4),(63.5,45.9),(63.5,42.3),(63.7,43.9),(63.7,45.4),(63.8,40.6),(63.9,45.5),
    (63.9,47.3),(63.9,50.4),(63.9,48.9),(63.9,48.0),(64.0,44.5),(64.1,42.4),(64.3,46.1),(64.4,40.4),
    (64.4,43.1),(64.5,49.0),(64.5,46.2),(64.6,49.4),(64.7,45.3),(64.8,39.5),(64.8,44.6),(64.9,41.3),
    (65.0,43.4),(65.0,43.0),(65.1,43.7),(65.2,40.5),(65.3,40.1),(65.3,48.3),(65.4,46.8),(65.6,47.6),
    (65.6,50.0),(65.6,44.4),(65.7,43.2),(65.7,49.0),(65.8,42.6),(65.8,47.2),(65.9,47.7),(66.0,44.9),
    (66.1,49.4),(66.2,48.8),(66.3,48.6),(66.3,46.9),(66.3,46.3),(66.4,41.4),(66.4,40.0),(66.6,49.9),
    (66.8,41.7),(66.8,47.2),(66.9,47.0),(67.0,49.5),(67.0,48.3),(67.1,39.5),(67.2,50.6),(67.2,49.3),
    (67.4,44.3),(67.4,44.6),(67.5,45.6),(67.6,48.6),(67.7,42.2),(67.8,48.1),(68.2,40.6),(68.3,49.2),
    (68.3,42.5),(68.3,43.7),(68.4,46.3),(68.5,43.0),(68.7,41.5),(68.8,44.3),(68.8,48.2),(68.9,49.3),
    (68.9,50.4),(69.0,46.5),(69.1,43.0),(69.2,50.4),(69.2,43.8),(69.4,48.5),(69.4,49.5),(69.5,50.2),
    (69.6,42.2),(69.6,44.4),(69.7,46.8),(69.7,44.7),(69.8,44.3),(70.0,43.0),(70.0,43.6),(70.0,41.7),
    (70.2,45.3),(70.2,43.3),(70.3,43.1),(70.4,45.1),(70.4,47.0),(70.5,47.5),(70.5,48.6),(70.6,39.7),
    (70.6,41.5),(70.6,46.5),(70.7,40.5),(70.8,42.9),(70.8,50.1),(70.8,40.3),(70.9,40.2),(71.1,43.9),
    (71.1,45.2),(71.1,43.5),(71.3,43.6),(71.4,50.4),(71.4,41.4),(71.5,50.1),(71.5,47.8),(71.6,41.5),
    (71.6,42.6),(71.7,50.0),(71.7,49.5),(71.7,42.2),(71.7,43.6),(71.7,40.0),(71.8,50.6),(72.0,44.7),
    (72.0,44.4),(72.2,48.6),(72.4,47.4),(72.4,47.6),(72.4,46.8),(72.5,47.2),(72.5,46.0),(72.5,39.5),
    (72.6,50.6),(72.7,43.7),(72.9,48.6),(72.9,48.2),(72.9,50.2),(72.9,44.7),(73.2,40.1),(73.3,45.8),
    (73.3,46.5),(73.5,50.3),(73.6,49.6),(73.5,41.6),(73.6,41.8),(73.6,44.0),(73.7,40.9),(73.8,42.1),
    (73.8,50.5),(74.2,47.9),(74.2,47.5),(74.4,45.2),(74.4,44.7),(74.4,44.4),(74.5,39.9),(74.5,49.8),
    (74.5,43.3),(74.5,40.6),(74.7,49.1),(74.7,40.4),(74.9,46.8),(74.9,42.8),(75.0,47.9),(75.0,41.9),
    (75.1,44.6),(75.1,41.5),(75.1,40.2),(75.2,45.0),(75.3,45.5),(75.4,48.6),(75.5,41.0),(75.5,41.8),
    (75.5,43.1),(75.5,44.1),(75.6,49.0),(75.6,50.0),(75.8,48.4),(75.8,42.4),(75.8,43.9),(75.9,45.7),
    (76.2,46.7),(76.2,42.3),(76.3,45.4),(76.4,42.9),(76.4,46.8),(76.5,41.4),(76.7,39.8),(76.7,45.7),
    (76.7,40.4),(76.8,43.7),(76.8,40.9),(76.8,45.5),(76.9,48.0),(76.9,41.4),(77.0,44.0),(77.0,47.1),
    (77.0,45.0),(77.0,42.7),(77.1,40.4),(77.1,40.0),(77.2,42.2),(77.3,48.0),(77.3,42.7),(77.4,39.2),
    (77.4,40.6),(77.5,40.6),(77.5,42.9),(77.6,41.8),(77.6,40.0),(77.6,46.2),(77.7,45.0),(77.7,40.3),
    (77.8,40.2),(77.8,44.4),(78.0,43.3),(78.1,40.8),(78.2,40.6),(78.2,45.6),(78.3,40.3),(78.3,40.7),
    (78.4,39.2),(78.4,41.0),(78.4,37.4),(78.4,44.2),(78.5,42.1),(78.8,38.5),(78.9,42.0),(79.2,42.6),
    (79.4,38.3),(79.5,40.2),(79.7,42.4),(79.7,43.0),(79.7,39.9),(79.8,39.5),(79.7,38.9),(79.8,39.7),
]

h_mir155_sf = [
    (60.0,68.6),(60.1,65.9),(60.1,62.6),(60.2,62.6),(60.4,64.0),(60.4,61.1),(60.5,59.6),(60.5,67.4),
    (60.6,55.6),(60.7,55.2),(60.7,59.8),(60.7,58.7),(60.8,54.3),(60.9,57.5),(60.9,67.9),(61.0,64.7),
    (61.0,55.8),(61.2,57.4),(61.3,59.8),(61.3,59.1),(61.4,57.0),(61.4,54.8),(61.6,61.9),(61.7,57.9),
    (61.7,54.7),(61.7,54.1),(61.8,56.8),(61.8,61.9),(61.9,57.5),(62.0,64.7),(62.2,58.7),(62.2,63.3),
    (62.2,58.3),(62.3,63.8),(62.2,54.4),(62.2,54.3),(62.4,60.2),(62.5,53.6),(62.6,50.5),(62.7,61.3),
    (62.8,60.6),(62.9,58.4),(62.9,52.4),(63.1,57.4),(63.1,57.9),(63.1,55.9),(63.2,60.4),(63.2,50.4),
    (63.2,59.5),(63.3,60.4),(63.3,53.7),(63.4,51.4),(63.5,54.5),(63.5,61.1),(63.6,48.8),(63.7,47.6),
    (63.8,58.4),(63.8,51.6),(63.9,52.8),(63.9,57.7),(63.9,54.0),(63.9,49.7),(64.0,48.3),(64.1,51.8),
    (64.3,65.5),(64.3,56.2),(64.4,50.7),(64.5,58.0),(64.5,53.9),(64.6,56.5),(64.7,56.9),(64.8,51.2),
    (64.8,48.7),(64.8,57.2),(64.9,59.5),(65.0,52.8),(65.1,64.4),(65.2,59.5),(65.3,59.0),(65.3,58.3),
    (65.3,52.6),(65.5,55.5),(65.6,57.1),(65.7,64.9),(65.7,58.7),(65.7,63.3),(65.7,55.5),(65.8,50.1),
    (65.9,59.7),(66.1,57.9),(66.1,56.6),(66.3,58.7),(66.3,55.8),(66.3,55.2),(66.4,48.3),(66.6,53.1),
    (66.8,54.7),(66.8,53.8),(66.9,52.0),(67.0,44.5),(67.0,49.7),(67.0,53.2),(67.2,52.5),(67.2,48.7),
    (67.3,49.0),(67.4,51.8),(67.5,57.4),(67.5,53.7),(67.6,55.5),(67.8,55.0),(68.2,52.2),(68.3,50.4),
    (68.3,50.0),(68.3,49.2),(68.3,48.5),(68.4,47.8),(68.6,49.0),(68.8,48.1),(68.9,57.7),(68.8,49.0),
    (68.8,45.6),(69.0,47.2),(69.0,40.3),(69.2,43.3),(69.2,56.7),(69.3,53.3),(69.4,51.4),(69.4,50.8),
    (69.5,55.5),(69.6,46.4),(69.7,51.5),(69.7,55.4),(69.7,52.1),(69.9,50.8),(70.0,53.4),(70.0,52.9),
    (70.2,45.7),(70.2,52.2),(70.3,55.1),(70.3,54.6),(70.3,45.3),(70.4,51.4),(70.4,50.2),(70.5,53.9),
    (70.5,42.9),(70.6,46.5),(70.7,49.8),(70.7,50.6),(70.8,52.7),(70.6,59.6),(70.9,58.7),(71.0,47.2),
    (71.0,46.2),(71.0,40.7),(71.3,47.4),(71.3,49.3),(71.3,44.5),(71.4,51.4),(71.5,42.9),(71.6,54.9),
    (71.5,38.8),(71.6,45.0),(71.7,48.1),(71.7,52.1),(71.7,59.3),(71.7,42.5),(71.8,46.1),(72.0,42.3),
    (72.0,37.2),(72.2,51.9),(72.4,43.5),(72.4,48.3),(72.4,45.0),(72.4,40.1),(72.4,47.1),(72.5,47.5),
    (72.5,42.3),(72.5,39.1),(72.5,39.1),(72.6,55.5),(72.8,41.1),(72.9,44.0),(72.9,42.3),(72.8,50.7),
    (73.2,56.3),(73.2,50.6),(73.3,46.7),(73.5,40.4),(73.5,45.3),(73.5,38.4),(73.6,38.1),(73.6,41.0),
    (73.6,59.7),(73.8,49.0),(73.8,46.9),(74.1,43.7),(74.2,39.2),(74.3,41.0),(74.3,39.4),(74.4,45.5),
    (74.4,41.6),(74.5,44.9),(74.5,55.6),(74.5,47.8),(74.6,48.5),(74.6,44.9),(74.8,45.6),(74.9,48.5),
    (75.0,39.0),(75.0,40.3),(75.1,38.3),(75.1,37.2),(75.0,35.9),(75.2,43.2),(75.3,46.9),(75.3,43.6),
    (75.4,44.9),(75.4,39.2),(75.4,38.2),(75.5,36.7),(75.4,54.9),(75.6,43.7),(75.7,46.1),(75.7,42.0),
    (75.7,44.4),(75.8,36.3),(76.1,42.8),(76.1,39.6),(76.2,44.3),(76.3,33.3),(76.4,40.5),(76.5,58.6),
    (76.6,47.1),(76.6,49.8),(76.6,41.7),(76.7,47.5),(76.7,41.1),(76.8,41.1),(76.8,43.5),(76.7,30.3),
    (76.9,43.0),(76.9,47.2),(76.9,30.9),(77.0,58.7),(77.0,44.5),(77.0,46.7),(77.1,39.9),(77.2,39.3),
    (77.2,43.9),(77.3,41.6),(77.3,51.1),(77.4,42.2),(77.4,45.3),(77.5,45.0),(77.4,42.9),(77.5,31.4),
    (77.5,39.6),(77.6,43.0),(77.7,39.6),(78.0,32.5),(78.0,42.7),(78.1,41.4),(78.1,42.9),(78.2,47.3),
    (78.2,43.2),(78.2,38.6),(78.2,37.9),(78.3,38.0),(78.4,48.4),(78.4,40.1),(78.4,35.7),(78.7,36.2),
    (79.1,45.6),(79.4,39.2),(79.4,44.3),(79.6,46.2),(79.7,42.8),(79.7,38.4),(79.8,41.8),(79.8,34.6),
]

# ---- axis ticks and labels ----
mir24_ticks = [25, 30, 35, 40, 45]
mir155_ticks = [60, 65, 70, 75, 80]
esca_ticks = [80, 100, 120, 140]
adl_ticks = [30, 35, 40, 45, 50, 55]
lvef_ticks = [35, 40, 45, 50, 55]
sf_ticks = [30, 40, 50, 60, 70]

panel_letters = ["A", "B", "C", "D", "E", "F", "G", "H"]
x_titles = ["Serum levels of miR-24"] * 4 + ["Serum levels of miR-155"] * 4
y_titles = ["Scores of ESCA", "Scores of ADL", "Scores of LVEF", "Scores of SF"] * 2
rho_labels = ["Rho=-0.72", "Rho=-0.78", "Rho=-0.62", "Rho=-0.85",
              "Rho=-0.68", "Rho=-0.79", "Rho=-0.60", "Rho=-0.79"]
p_label = "P<0.001"

# panel geometry in page pixels: x0, x1, y_top, y_bottom
panels = [
    dict(data=a_mir24_esca, xt=mir24_ticks, yt=esca_ticks, box=(192, 1146, 97, 730),
         letter=(23, 27), ytitle_x=47, rho=(317, 608, "left")),
    dict(data=b_mir24_adl, xt=mir24_ticks, yt=adl_ticks, box=(1355, 2307, 116, 753),
         letter=(1199, 27), ytitle_x=1226, rho=(1754, 113, "left")),
    dict(data=c_mir24_lvef, xt=mir24_ticks, yt=lvef_ticks, box=(218, 1168, 1051, 1687),
         letter=(22, 984), ytitle_x=90, rho=(431, 1104, "left")),
    dict(data=d_mir24_sf, xt=mir24_ticks, yt=sf_ticks, box=(1351, 2303, 1051, 1686),
         letter=(1206, 984), ytitle_x=1223, rho=(1676, 1024, "left")),
    dict(data=e_mir155_esca, xt=mir155_ticks, yt=esca_ticks, box=(166, 1116, 2026, 2661),
         letter=(22, 1931), ytitle_x=18, rho=(630, 1992, "center")),
    dict(data=f_mir155_adl, xt=mir155_ticks, yt=adl_ticks, box=(1355, 2305, 2027, 2661),
         letter=(1201, 1931), ytitle_x=1229, rho=(1744, 2042, "left")),
    dict(data=g_mir155_lvef, xt=mir155_ticks, yt=lvef_ticks, box=(218, 1168, 2966, 3599),
         letter=(22, 2901), ytitle_x=90, rho=(493, 3018, "center")),
    dict(data=h_mir155_sf, xt=mir155_ticks, yt=sf_ticks, box=(1369, 2320, 2966, 3599),
         letter=(1204, 2901), ytitle_x=1241, rho=(1874, 3062, "center")),
]


def fx(px):
    return px / W


def fy(py):
    return 1 - py / H


BOLD = dict(family="DejaVu Sans", color="black", weight="bold")

fig = go.Figure()
annotations = []
layout_axes = {}

for i, p in enumerate(panels, start=1):
    x0, x1, yt, yb = p["box"]
    xs = [pt[0] for pt in p["data"]]
    ys = [pt[1] for pt in p["data"]]
    sfx = "" if i == 1 else str(i)

    fig.add_trace(go.Scatter(
        x=xs, y=ys, mode="markers",
        marker=dict(color="black", size=13),
        xaxis=f"x{sfx}", yaxis=f"y{sfx}",
        cliponaxis=False, showlegend=False, hoverinfo="skip",
    ))

    common = dict(
        showline=True, linewidth=6, linecolor="black",
        ticks="outside", ticklen=14, tickwidth=5, tickcolor="black",
        showgrid=False, zeroline=False,
    )
    layout_axes[f"xaxis{sfx}"] = dict(
        common, domain=[fx(x0), fx(x1)], anchor=f"y{sfx}",
        range=[p["xt"][0], p["xt"][-1]], tickvals=p["xt"],
        tickfont=dict(BOLD, size=34), ticklabelstandoff=24,
    )
    layout_axes[f"yaxis{sfx}"] = dict(
        common, domain=[fy(yb), fy(yt)], anchor=f"x{sfx}",
        range=[p["yt"][0], p["yt"][-1]], tickvals=p["yt"],
        tickfont=dict(BOLD, size=30), ticklabelstandoff=14,
    )

    # panel letter
    lx, ly = p["letter"]
    annotations.append(dict(
        text=panel_letters[i - 1], x=fx(lx), y=fy(ly), xref="paper", yref="paper",
        showarrow=False, xanchor="center", yanchor="middle",
        font=dict(family="Liberation Sans", size=42, color="black", weight="bold"),
    ))
    # x title
    annotations.append(dict(
        text=x_titles[i - 1], x=fx((x0 + x1) / 2), y=fy(yb + 130),
        xref="paper", yref="paper", showarrow=False,
        xanchor="center", yanchor="middle", font=dict(BOLD, size=38),
    ))
    # y title
    annotations.append(dict(
        text=y_titles[i - 1], x=fx(p["ytitle_x"]), y=fy((yt + yb) / 2),
        xref="paper", yref="paper", showarrow=False, textangle=-90,
        xanchor="center", yanchor="middle", font=dict(BOLD, size=40),
    ))
    # correlation text
    rx, ry, align = p["rho"]
    for j, txt in enumerate([rho_labels[i - 1], p_label]):
        annotations.append(dict(
            text=txt, x=fx(rx), y=fy(ry + 50 * j), xref="paper", yref="paper",
            showarrow=False, xanchor=align, yanchor="middle",
            font=dict(family="DejaVu Sans", size=32, color="black"),
        ))

fig.update_layout(
    width=W, height=H,
    margin=dict(l=0, r=0, t=0, b=0),
    paper_bgcolor="white", plot_bgcolor="white",
    annotations=annotations,
    **layout_axes,
)

fig.write_html("out.html")
